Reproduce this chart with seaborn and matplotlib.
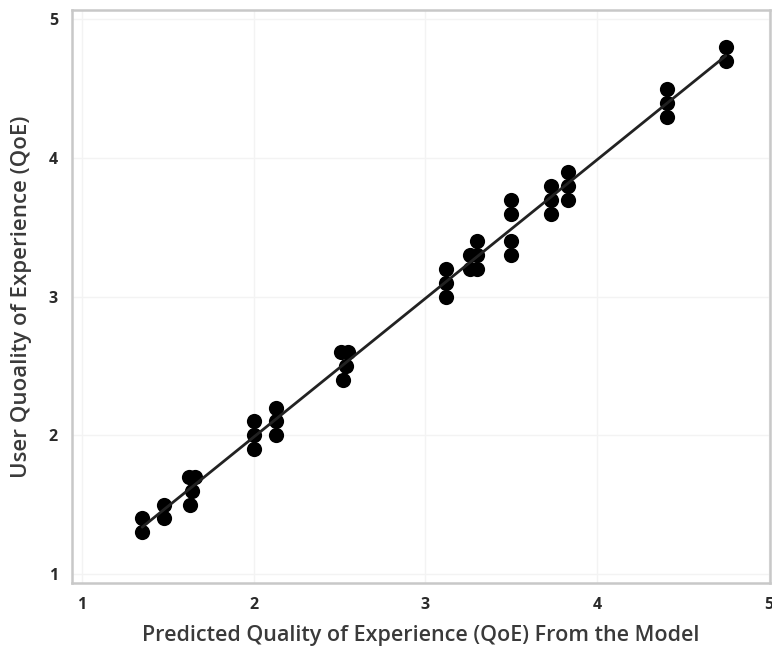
import numpy as np
import pandas as pd
import matplotlib
matplotlib.use("Agg")
import matplotlib.pyplot as plt
import seaborn as sns

# Predicted (model) vs. user-reported QoE
predicted = [1.35, 1.35,
             1.48, 1.48,
             1.62, 1.66, 1.64, 1.63,
             2.00, 2.00, 2.00,
             2.13, 2.13, 2.13,
             2.51, 2.55, 2.54, 2.52,
             3.12, 3.12, 3.12,
             3.30, 3.26, 3.30, 3.26, 3.30,
             3.50, 3.50, 3.50, 3.50,
             3.73, 3.73, 3.73,
             3.83, 3.83, 3.83,
             4.41, 4.41, 4.41,
             4.75, 4.75]
user_qoe = [1.4, 1.3,
            1.5, 1.4,
            1.7, 1.7, 1.6, 1.5,
            2.1, 2.0, 1.9,
            2.2, 2.1, 2.0,
            2.6, 2.6, 2.5, 2.4,
            3.2, 3.1, 3.0,
            3.4, 3.3, 3.3, 3.2, 3.2,
            3.7, 3.6, 3.4, 3.3,
            3.8, 3.7, 3.6,
            3.9, 3.8, 3.7,
            4.5, 4.4, 4.3,
            4.8, 4.7]
ticks = [1, 2, 3, 4, 5]

df = pd.DataFrame({'pred': predicted, 'user': user_qoe})

sns.set_theme(style='white')
plt.rcParams['font.family'] = ['Open Sans', 'DejaVu Sans']

fig = plt.figure(figsize=(7.72, 6.52), dpi=100)
ax = fig.add_axes([0.093, 0.106, 0.905, 0.879])

sns.regplot(data=df, x='pred', y='user', ax=ax, ci=None,
            scatter_kws={'s': 120, 'color': 'black', 'alpha': 1, 'linewidths': 0},
            line_kws={'color': '#222222', 'lw': 2})

ax.set_xlim(0.94, 5.01)
ax.set_ylim(0.935, 5.07)
ax.set_xticks(ticks)
ax.set_yticks(ticks)
ax.grid(True, color='#f3f3f3', lw=1)
ax.set_axisbelow(True)

for s in ax.spines.values():
    s.set_color('#c8c8c8')
    s.set_linewidth(1.8)

ax.tick_params(axis='both', direction='out', length=4, width=1, color='#c8c8c8',
               labelsize=11.5, labelcolor='#2a2a2a', pad=6)
for lab in ax.get_xticklabels() + ax.get_yticklabels():
    lab.set_fontweight('bold')

ax.set_xlabel('Predicted Quality of Experience (QoE) From the Model',
              fontsize=15.5, color='#3a3a3a', fontweight='semibold', labelpad=9)
ax.set_ylabel('User Quoality of Experience (QoE)',
              fontsize=16, color='#3a3a3a', fontweight='semibold', labelpad=12)

fig.savefig('out.png', dpi=100)
